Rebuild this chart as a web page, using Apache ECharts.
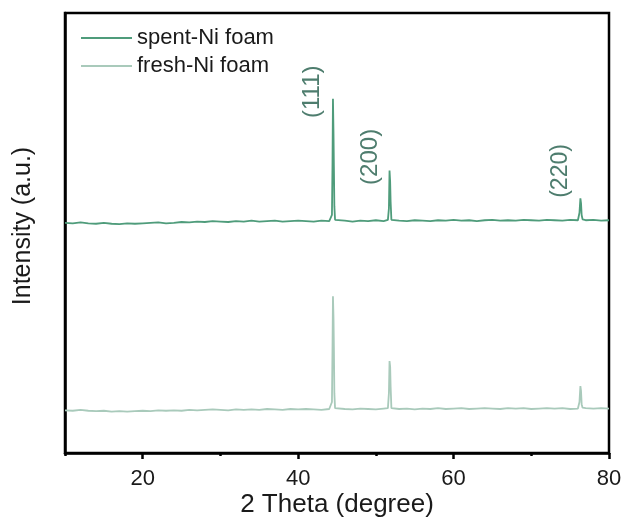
<!DOCTYPE html>
<html>
<head>
<meta charset="utf-8">
<script src="https://cdn.jsdelivr.net/npm/echarts@6/dist/echarts.min.js"></script>
<style>
  html, body { margin: 0; padding: 0; background: #fff; }
  #chart { width: 625px; height: 519px; }
</style>
</head>
<body>
<div id="chart"></div>
<script>
// 2θ sampling positions (degrees), denser around the Ni reflections
const twoTheta = [
  10,11,12,13,14,15,16,17,18,19,20,21,22,23,24,25,26,27,28,29,30,31,32,33,34,35,36,37,38,39,40,41,42,43,44,
  44.2,44.35,44.42,44.48,44.55,44.6,44.66,44.75,
  45,46,47,48,49,50,51,
  51.55,51.68,51.76,51.84,51.9,52.0,
  53,54,55,56,57,58,59,60,61,62,63,64,65,66,67,68,69,70,71,72,73,74,75,76,
  76.2,76.32,76.4,76.48,76.6,
  77,78,79,80
];

// Offset intensity traces (a.u.)
const spentIntensity = [
  52.7,52.6,52.8,52.6,52.5,52.7,52.5,52.4,52.6,52.5,52.6,52.7,52.8,52.6,52.7,52.9,52.8,53.0,52.9,53.1,53.0,52.9,53.1,53.0,53.2,53.0,53.1,53.2,53.0,53.1,53.2,53.1,53.0,53.2,53.1,
  53.2,54.5,66.0,80.9,73.0,65.5,56.5,53.4,
  53.1,53.2,53.0,53.2,53.1,53.3,53.1,
  53.4,56.0,64.6,62.0,57.5,53.4,
  53.2,53.1,53.3,53.2,53.1,53.3,53.2,53.4,53.2,53.3,53.1,53.3,53.4,53.2,53.3,53.2,53.4,53.3,53.2,53.4,53.3,53.2,53.4,53.3,
  55.0,58.3,57.2,54.5,53.5,
  53.3,53.4,53.2,53.3
];

const freshIntensity = [
  10.1,10.0,10.2,10.0,9.9,10.0,9.8,9.9,9.8,9.9,10.0,9.9,10.1,10.0,10.1,10.0,10.2,10.1,10.2,10.3,10.2,10.1,10.3,10.2,10.3,10.2,10.4,10.3,10.2,10.4,10.3,10.4,10.3,10.2,10.4,
  10.4,12.0,24.0,36.0,31.0,24.5,14.0,10.6,
  10.3,10.4,10.3,10.5,10.4,10.3,10.5,
  10.6,14.0,21.3,20.0,15.5,10.6,
  10.4,10.5,10.3,10.5,10.4,10.6,10.4,10.5,10.6,10.4,10.5,10.6,10.5,10.4,10.6,10.5,10.6,10.4,10.5,10.6,10.5,10.6,10.4,10.5,
  12.0,15.6,14.5,11.5,10.7,
  10.6,10.5,10.6,10.5
];

// Reflection indices and the peak each one marks
const reflectionLabels = ['(111)', '(200)', '(220)'];
const reflectionTheta = [44.48, 51.76, 76.32];
const reflectionTop = [80.9, 64.6, 58.3];

const seriesNames = ['spent-Ni foam', 'fresh-Ni foam'];
const majorTicks = [20, 40, 60, 80];
const minorTicks = [10, 30, 50, 70];

const SPENT_COLOR = '#4f9c7b';
const FRESH_COLOR = '#a9cabb';
const LABEL_COLOR = '#4e7d6e';
const FONT = 'Liberation Sans, Arial, sans-serif';

// label placement relative to each peak top: [Δ2θ, Δintensity]
const labelShift = [[-2.6, 1.6], [-2.5, 3.1], [-2.6, 6.2]];

const pairs = (ys) => twoTheta.map((x, i) => [x, ys[i]]);

const chart = echarts.init(document.getElementById('chart'), null, { renderer: 'canvas' });

const reflectionMarks = reflectionLabels.map((name, i) => ({
  name: name,
  coord: [reflectionTheta[i] + labelShift[i][0], reflectionTop[i] + labelShift[i][1]],
  label: {
    show: true,
    formatter: name,
    rotate: 90,
    position: 'inside',
    align: 'center',
    verticalAlign: 'middle',
    color: LABEL_COLOR,
    fontFamily: FONT,
    fontSize: i === 2 ? 23 : 24
  }
}));

const frame = { color: '#000', width: 2.5 };

chart.setOption({
  animation: false,
  backgroundColor: '#ffffff',
  grid: {
    left: 65, right: 16, top: 13, bottom: 66,
    outerBoundsMode: 'none',
    containLabel: false,
    show: true, borderColor: '#000', borderWidth: 2.5, backgroundColor: 'transparent'
  },
  legend: {
    data: seriesNames,
    orient: 'vertical',
    left: 81, top: 27,
    padding: 0,
    itemWidth: 51, itemHeight: 2,
    itemGap: 6,
    icon: 'rect',
    textStyle: { fontFamily: FONT, fontSize: 22, lineHeight: 22, color: '#1a1a1a' }
  },
  xAxis: [
    {
      type: 'value',
      min: 10, max: 80, interval: 10,
      name: '2 Theta (degree)',
      nameLocation: 'middle',
      nameGap: 39,
      nameMoveOverlap: false,
      nameTextStyle: { fontFamily: FONT, fontSize: 26, color: '#1a1a1a' },
      axisLine: { show: true, lineStyle: frame },
      axisTick: { show: true, length: 6, customValues: majorTicks, lineStyle: frame },
      axisLabel: {
        fontFamily: FONT, fontSize: 22, color: '#1a1a1a', margin: 15,
        customValues: majorTicks
      },
      splitLine: { show: false }
    },
    {
      // shorter ticks between the labelled ones
      type: 'value',
      position: 'bottom',
      min: 10, max: 80, interval: 10,
      axisLine: { show: false },
      axisTick: { show: true, length: 3, customValues: minorTicks, lineStyle: frame },
      axisLabel: { show: false },
      splitLine: { show: false }
    }
  ],
  yAxis: {
    type: 'value',
    min: 0.4, max: 100.4,
    name: 'Intensity (a.u.)',
    nameLocation: 'middle',
    nameGap: 29,
    nameMoveOverlap: false,
    nameTextStyle: { fontFamily: FONT, fontSize: 25, color: '#1a1a1a', padding: [0, 0, 0, 14] },
    axisLine: { show: true, lineStyle: frame },
    axisTick: { show: false },
    axisLabel: { show: false },
    splitLine: { show: false }
  },
  series: [
    {
      name: seriesNames[1],
      type: 'line',
      data: pairs(freshIntensity),
      showSymbol: false,
      symbol: 'none',
      color: FRESH_COLOR,
      lineStyle: { color: FRESH_COLOR, width: 1.8 },
      z: 2
    },
    {
      name: seriesNames[0],
      type: 'line',
      data: pairs(spentIntensity),
      showSymbol: false,
      symbol: 'none',
      color: SPENT_COLOR,
      lineStyle: { color: SPENT_COLOR, width: 1.8 },
      z: 3,
      markPoint: {
        symbol: 'circle',
        symbolSize: 1,
        itemStyle: { color: 'transparent' },
        data: reflectionMarks
      }
    }
  ]
});
</script>
</body>
</html>
